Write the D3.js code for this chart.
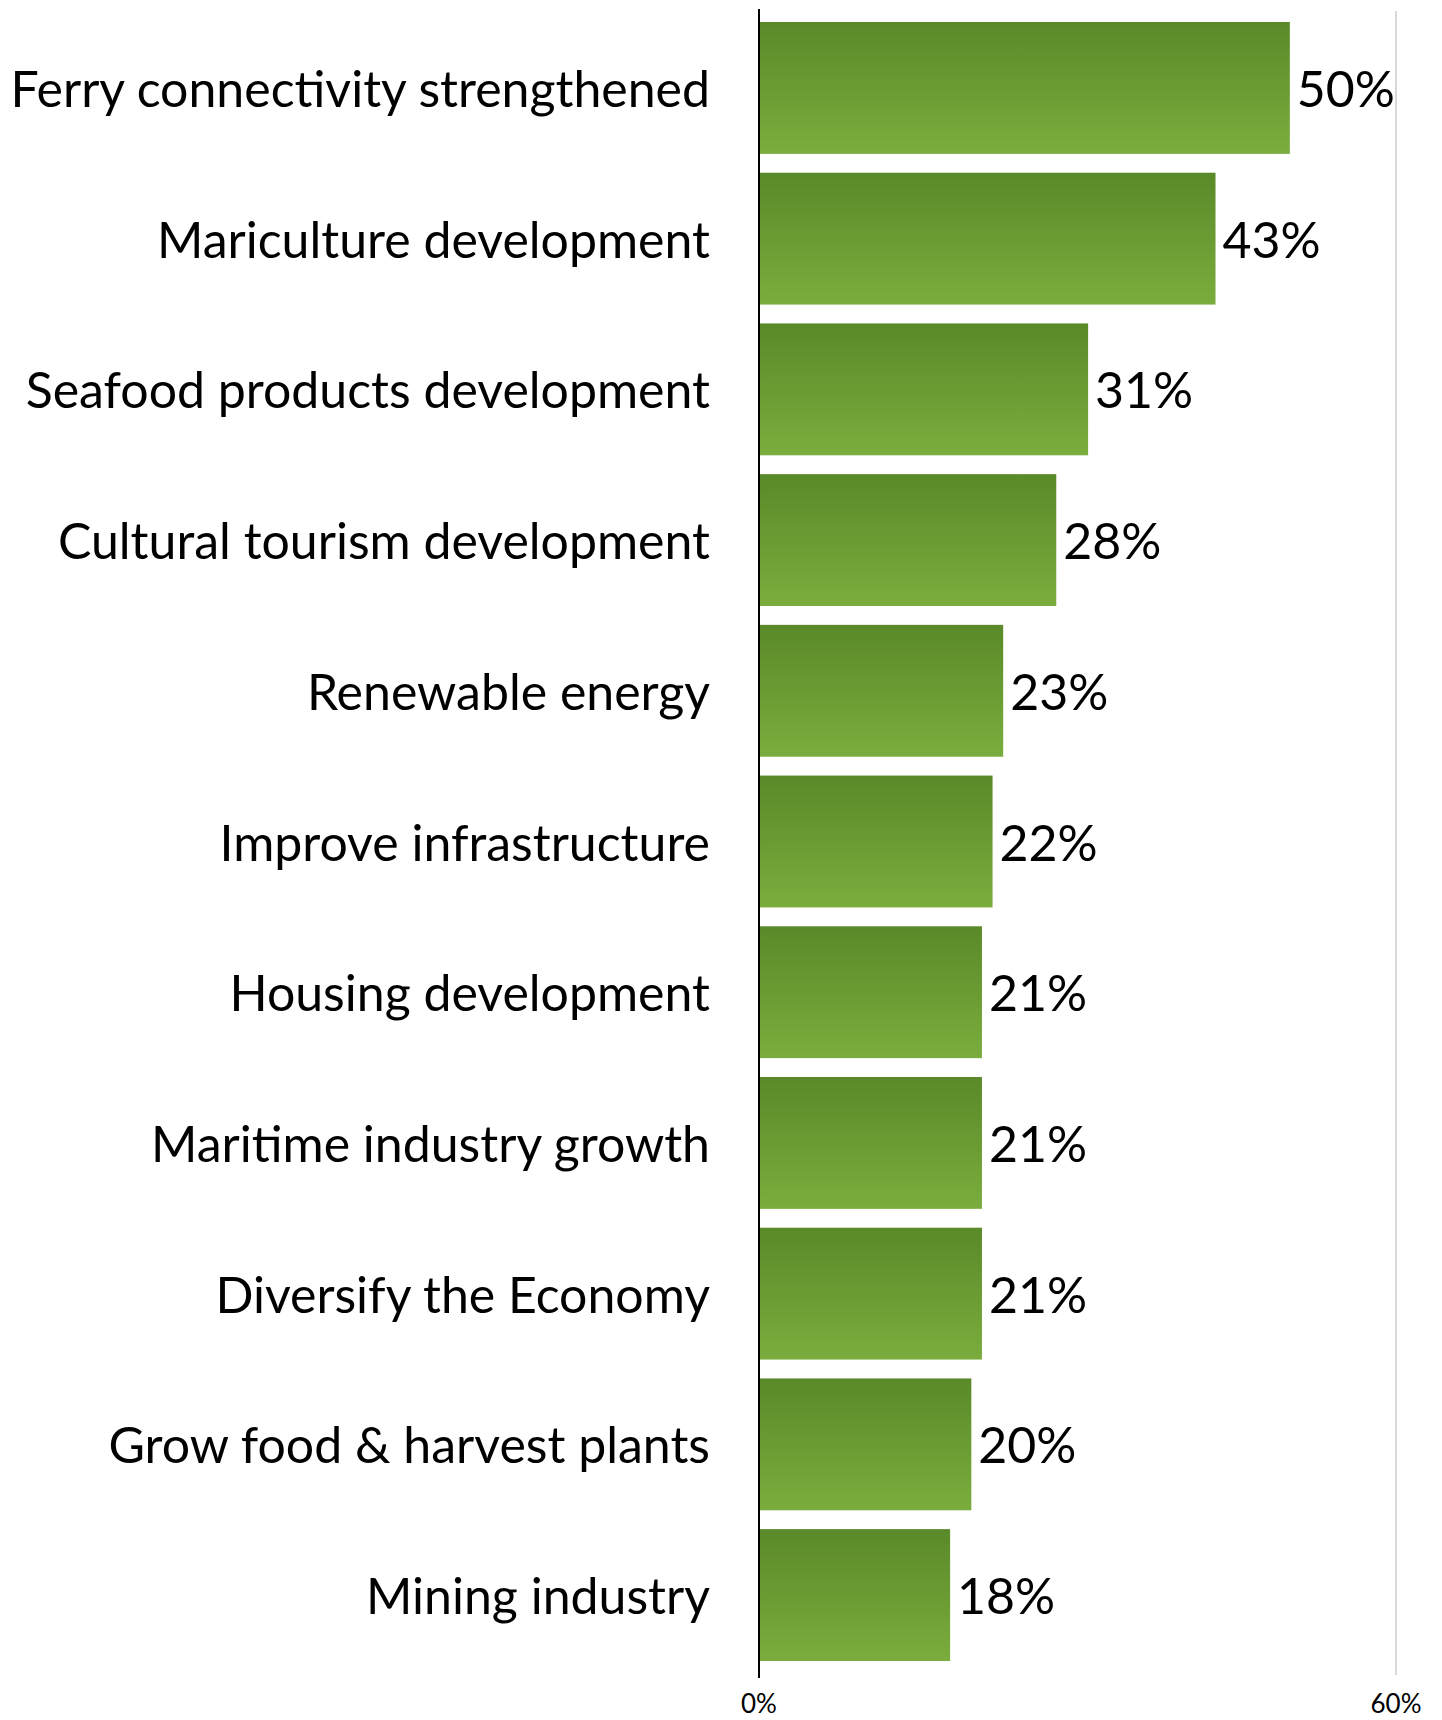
<!DOCTYPE html>
<html>
<head>
<meta charset="utf-8">
<script src="https://cdn.jsdelivr.net/npm/d3@7"></script>
<style>
  html, body { margin: 0; padding: 0; background: #ffffff; }
  svg { display: block; }
  text { font-family: Lato, "Open Sans", sans-serif; fill: #000; }
</style>
</head>
<body>
<script>
// Survey priorities, share of respondents (%)
const categories = [
  "Ferry connectivity strengthened",
  "Mariculture development",
  "Seafood products development",
  "Cultural tourism development",
  "Renewable energy",
  "Improve infrastructure",
  "Housing development",
  "Maritime industry growth",
  "Diversify the Economy",
  "Grow food & harvest plants",
  "Mining industry"
];
const values = [50, 43, 31, 28, 23, 22, 21, 21, 21, 20, 18];
const xTicks = [0, 60];

const width = 1442, height = 1720;
const x0 = 759, x1 = 1396;

const svg = d3.select("body").append("svg")
  .attr("width", width)
  .attr("height", height);

const defs = svg.append("defs");
const grad = defs.append("linearGradient")
  .attr("id", "barFill")
  .attr("x1", 0).attr("y1", 0).attr("x2", 0).attr("y2", 1);
grad.append("stop").attr("offset", "0%").attr("stop-color", "#5a8929");
grad.append("stop").attr("offset", "100%").attr("stop-color", "#7aad3d");

const x = d3.scaleLinear().domain([0, 60]).range([x0, x1]);
const y = d3.scaleBand().domain(categories).range([22, 1661]).paddingInner(0.125).paddingOuter(0);

const data = categories.map((c, i) => ({ cat: c, val: values[i] }));

// light grid line at the far tick
svg.append("g").selectAll("line.grid")
  .data(xTicks.filter(t => t !== 0))
  .join("line")
  .attr("class", "grid")
  .attr("x1", d => x(d)).attr("x2", d => x(d))
  .attr("y1", 11).attr("y2", 1675)
  .attr("stroke", "#d9d9d9").attr("stroke-width", 2);

// bars
svg.append("g").selectAll("rect")
  .data(data)
  .join("rect")
  .attr("x", x(0))
  .attr("y", d => y(d.cat))
  .attr("width", d => x(d.val) - x(0))
  .attr("height", y.bandwidth())
  .attr("fill", "url(#barFill)");

// baseline axis
svg.append("line")
  .attr("x1", x(0)).attr("x2", x(0))
  .attr("y1", 9).attr("y2", 1678)
  .attr("stroke", "#000").attr("stroke-width", 2);

// category labels
svg.append("g").selectAll("text.cat")
  .data(data)
  .join("text")
  .attr("class", "cat")
  .attr("x", 710)
  .attr("y", d => y(d.cat) + y.bandwidth() / 2)
  .attr("text-anchor", "end")
  .attr("dominant-baseline", "central")
  .style("font-size", "50px")
  .text(d => d.cat);

// value labels
svg.append("g").selectAll("text.val")
  .data(data)
  .join("text")
  .attr("class", "val")
  .attr("x", d => x(d.val) + 7)
  .attr("y", d => y(d.cat) + y.bandwidth() / 2)
  .attr("dominant-baseline", "central")
  .style("font-size", "50px")
  .text(d => d.val + "%");

// x tick labels
svg.append("g").selectAll("text.tick")
  .data(xTicks)
  .join("text")
  .attr("class", "tick")
  .attr("x", d => x(d))
  .attr("y", 1713)
  .attr("text-anchor", "middle")
  .style("font-size", "26px")
  .text(d => d + "%");
</script>
</body>
</html>
